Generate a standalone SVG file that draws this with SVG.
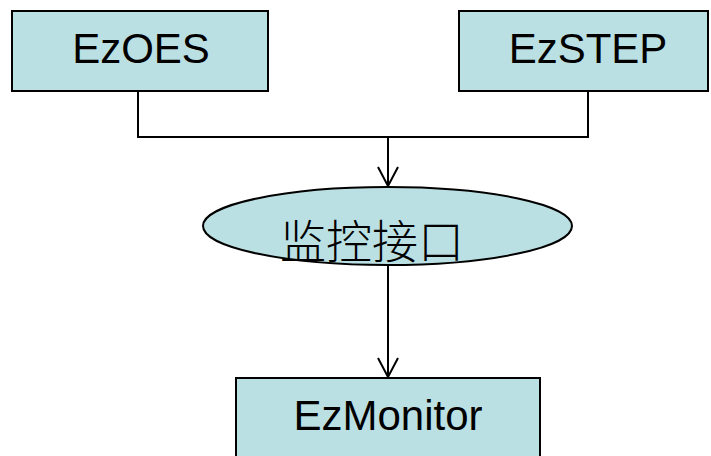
<svg xmlns="http://www.w3.org/2000/svg" width="711" height="456" viewBox="0 0 711 456">
  <style>
    .box { fill: #BBE0E3; stroke: #000; stroke-width: 2; }
    .lbl { font-family: "Liberation Sans", Arial, sans-serif; font-size: 42px; fill: #000; text-anchor: middle; }
    .cjk { font-family: "Noto Sans CJK SC", sans-serif; font-size: 46px; font-weight: 300; fill: #000; text-anchor: middle; }
    .wire { fill: none; stroke: #000; stroke-width: 2; }
  </style>
  <defs>
    <marker id="vee" viewBox="-22 -12 24 24" markerWidth="24" markerHeight="24" refX="0" refY="0" orient="auto" markerUnits="userSpaceOnUse">
      <path d="M-19,-10 L0,0 L-19,10" fill="none" stroke="#000" stroke-width="2"/>
    </marker>
  </defs>

  <g id="connectors">
    <path class="wire" d="M138,91 V137 H588 V91"/>
    <path class="wire" d="M388,137 V186" marker-end="url(#vee)"/>
    <path class="wire" d="M388,265 V377" marker-end="url(#vee)"/>
  </g>

  <g id="ezoes">
    <rect class="box" x="12" y="11" width="256" height="80"/>
    <text class="lbl" x="141" y="63">EzOES</text>
  </g>

  <g id="ezstep">
    <rect class="box" x="459" y="11" width="249" height="80"/>
    <text class="lbl" x="588" y="63">EzSTEP</text>
  </g>

  <g id="monitor-interface">
    <ellipse class="box" cx="387.5" cy="226" rx="184.5" ry="39"/>
    <text class="cjk" x="372" y="258">监控接口</text>
  </g>

  <g id="ezmonitor">
    <rect class="box" x="236" y="378" width="304" height="90"/>
    <text class="lbl" x="388" y="430">EzMonitor</text>
  </g>
</svg>
